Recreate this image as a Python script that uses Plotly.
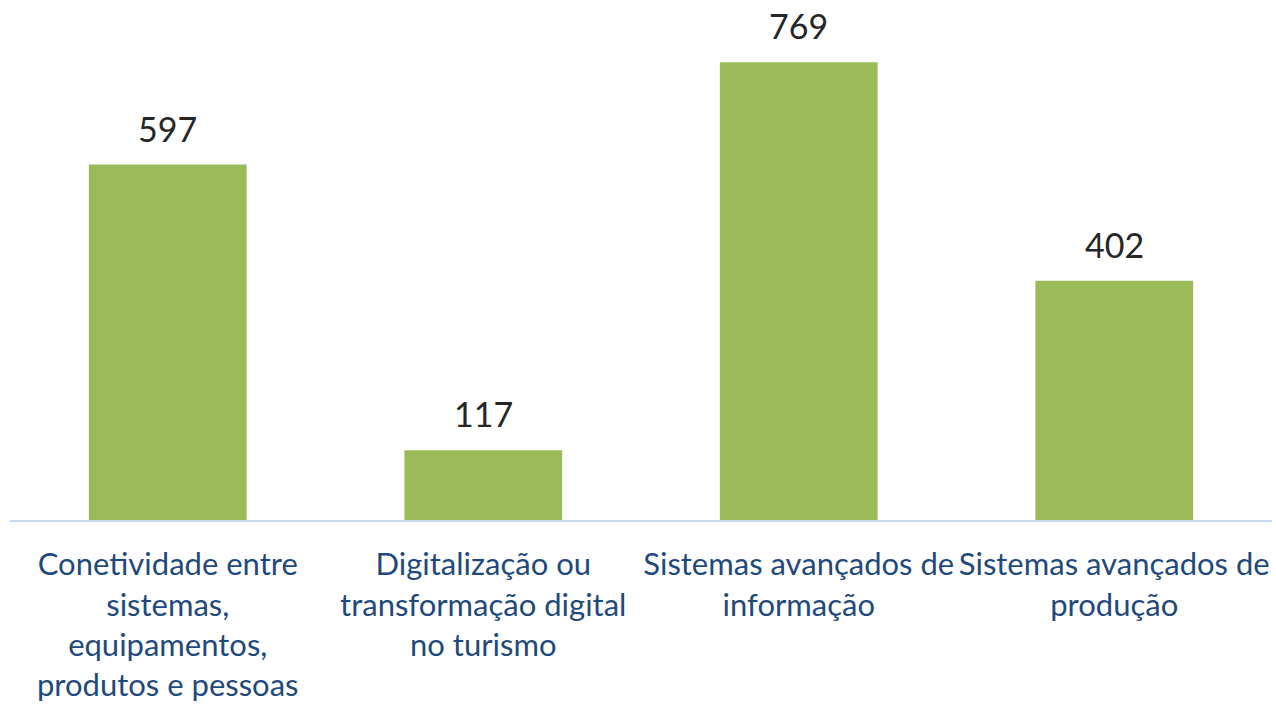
import plotly.graph_objects as go

categories = [
    "Conetividade entre<br>sistemas,<br>equipamentos,<br>produtos e pessoas",
    "Digitalização ou<br>transformação digital<br>no turismo",
    "Sistemas avançados de<br>informação",
    "Sistemas avançados de<br>produção",
]
values = [597, 117, 769, 402]

fig = go.Figure()
fig.add_trace(go.Bar(
    x=categories, y=values,
    marker=dict(color="#9BBB59", line=dict(width=0)),
    width=0.5,
))
for c, v in zip(categories, values):
    fig.add_annotation(x=c, y=v, text=str(v), showarrow=False,
                       yanchor="bottom", yshift=15, borderpad=0,
                       font=dict(family="Lato", size=34, color="#262626"))

fig.update_layout(
    width=1276, height=705,
    margin=dict(l=10, r=4, t=30, b=185, autoexpand=False),
    paper_bgcolor="white", plot_bgcolor="white",
    showlegend=False,
    font=dict(family="Lato"),
)
fig.update_xaxes(
    showline=True, linecolor="#C6D9F1", linewidth=2,
    ticks="", tickfont=dict(family="Lato", size=31, color="#1F497D"),
    ticklabelstandoff=16, showgrid=False, automargin=False,
)
fig.update_yaxes(range=[0, 823], visible=False, showgrid=False, automargin=False)
fig.write_html("out.html", config={"displayModeBar": False},
               post_script="document.body.style.margin='0';")
